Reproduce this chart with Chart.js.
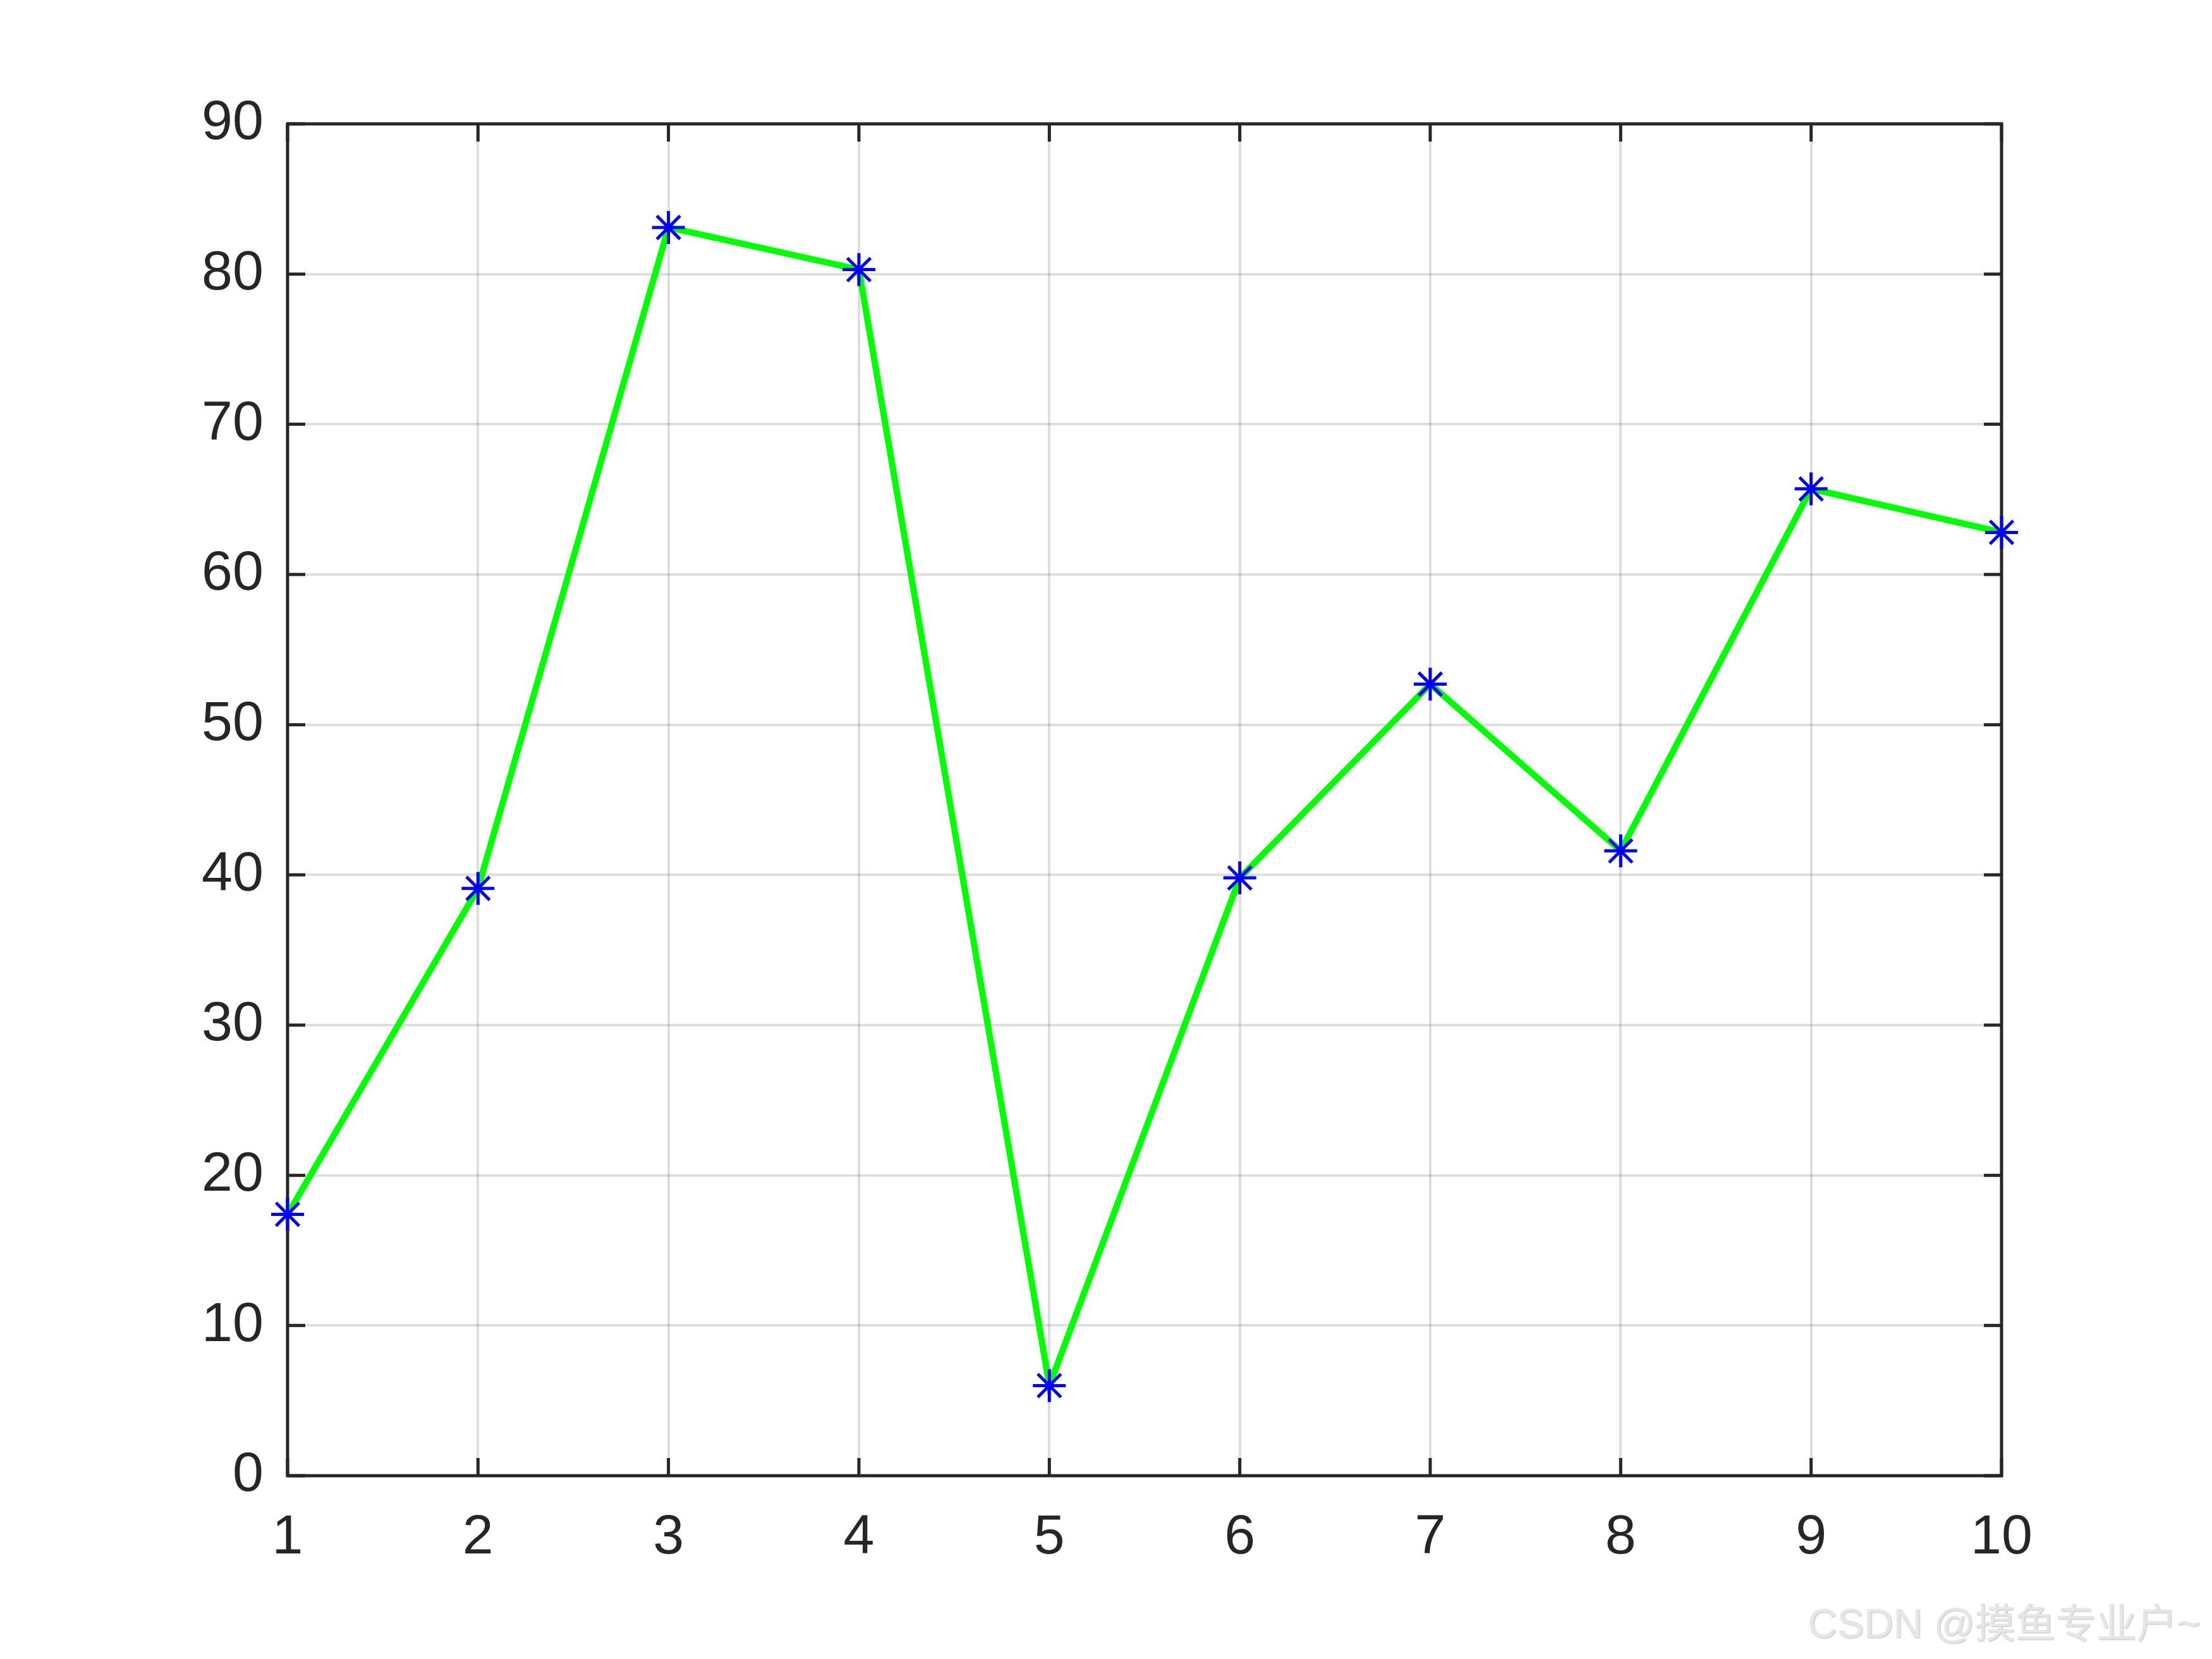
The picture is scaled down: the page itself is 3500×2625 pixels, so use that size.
<!DOCTYPE html>
<html>
<head>
<meta charset="utf-8">
<script src="https://cdn.jsdelivr.net/npm/chart.js@4"></script>
<style>
  html, body { margin: 0; padding: 0; background: #fff; }
  #wrap { position: relative; width: 3500px; height: 2625px; }
  #mark {
    position: absolute; right: 18px; bottom: 16px;
    font-family: "Liberation Sans", "Noto Sans CJK SC", sans-serif;
    font-size: 64px; color: #e6e6e6;
    text-shadow: 1px 1px 2px #bdbdbd;
  }
</style>
</head>
<body>
<div id="wrap">
  <canvas id="chart" width="3500" height="2625"></canvas>
  <div id="mark">CSDN @摸鱼专业户~</div>
</div>
<script>
// data
const xValues = [1, 2, 3, 4, 5, 6, 7, 8, 9, 10];
const yValues = [17.4, 39.1, 83.1, 80.3, 6.0, 39.8, 52.7, 41.6, 65.7, 62.8];
const yTicks = [0, 10, 20, 30, 40, 50, 60, 70, 80, 90];

const AXIS = '#262626';
const FONT = { family: '"Liberation Sans", Arial, sans-serif', size: 88 };

// box round the plot plus inward tick marks on all four sides
const boxTicks = {
  id: 'boxTicks',
  beforeDatasetsDraw(chart) {
    const { ctx, chartArea: a, scales: { x, y } } = chart;
    const len = 28;
    ctx.save();
    ctx.strokeStyle = AXIS;
    ctx.lineWidth = 5;
    ctx.beginPath();
    x.ticks.forEach(t => {
      const px = x.getPixelForValue(t.value);
      ctx.moveTo(px, a.bottom); ctx.lineTo(px, a.bottom - len);
      ctx.moveTo(px, a.top); ctx.lineTo(px, a.top + len);
    });
    y.ticks.forEach(t => {
      const py = y.getPixelForValue(t.value);
      ctx.moveTo(a.left, py); ctx.lineTo(a.left + len, py);
      ctx.moveTo(a.right, py); ctx.lineTo(a.right - len, py);
    });
    ctx.stroke();
    ctx.strokeRect(a.left, a.top, a.right - a.left, a.bottom - a.top);
    ctx.restore();
  }
};

new Chart(document.getElementById('chart'), {
  type: 'line',
  data: {
    datasets: [{
      data: xValues.map((v, i) => ({ x: v, y: yValues[i] })),
      borderColor: '#00ff00',
      borderWidth: 10,
      pointStyle: 'star',
      pointRadius: 26,
      pointBorderColor: '#0000ff',
      pointBackgroundColor: '#0000ff',
      pointBorderWidth: 5,
      tension: 0,
      clip: false
    }]
  },
  options: {
    responsive: false,
    animation: false,
    layout: { padding: { top: 196, right: 333, left: 0, bottom: 0 } },
    plugins: { legend: { display: false }, tooltip: { enabled: false } },
    scales: {
      x: {
        type: 'linear', min: 1, max: 10,
        afterBuildTicks: s => { s.ticks = xValues.map(v => ({ value: v })); },
        afterFit: s => { s.height = 290; },
        grid: { color: 'rgba(0,0,0,0.13)', lineWidth: 4, drawTicks: false },
        border: { display: false },
        ticks: { color: AXIS, font: FONT, padding: 46, maxRotation: 0 }
      },
      y: {
        min: 0, max: 90,
        afterBuildTicks: s => { s.ticks = yTicks.map(v => ({ value: v })); },
        afterFit: s => { s.width = 455; },
        grid: { color: 'rgba(0,0,0,0.13)', lineWidth: 4, drawTicks: false },
        border: { display: false },
        ticks: { color: AXIS, font: FONT, padding: 38 }
      }
    }
  },
  plugins: [boxTicks]
});
</script>
</body>
</html>
